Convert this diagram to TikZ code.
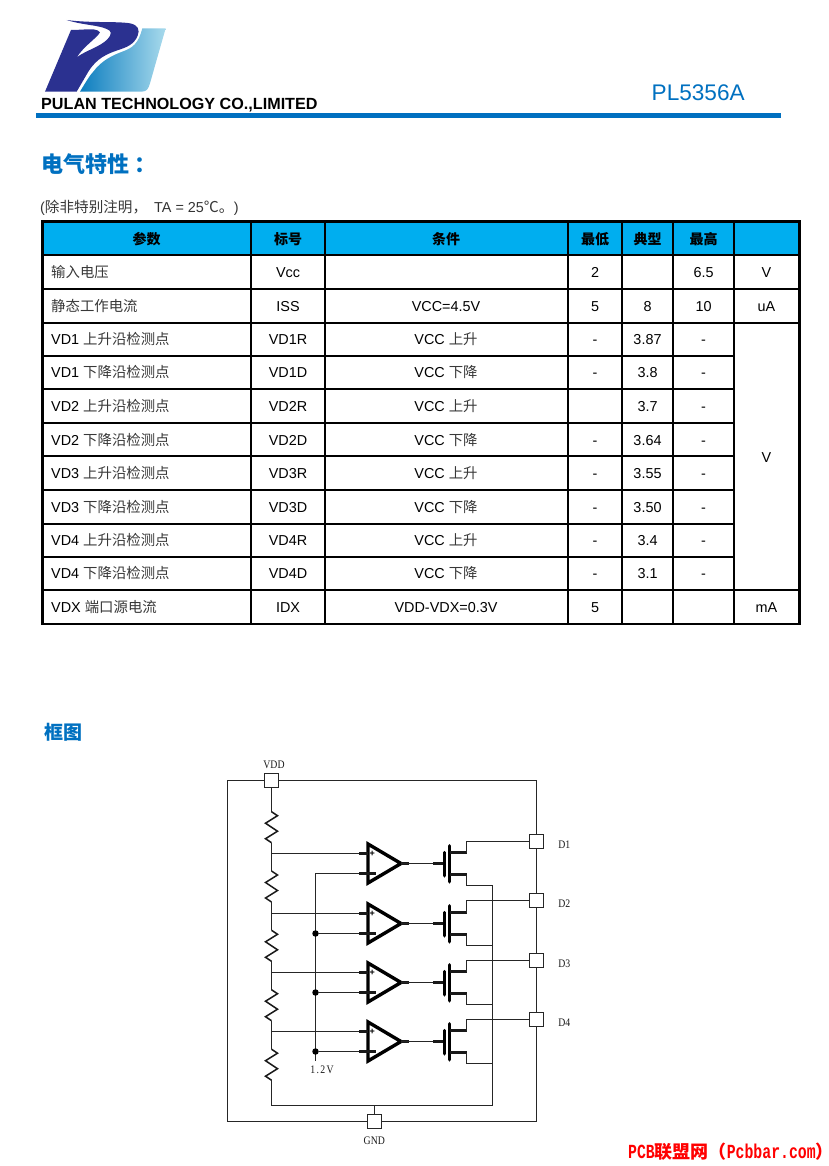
\documentclass[tikz,border=0pt]{standalone}
\usepackage{fontspec}
\usetikzlibrary{shapes.geometric}
\setmainfont{Liberation Sans}
\newfontfamily\cjk{Noto Sans CJK SC}
\newfontfamily\monofam[FakeStretch=0.74]{Liberation Mono}
\newfontfamily\seriffam[FakeStretch=0.85]{Liberation Serif}
\newcommand{\fsz}[1]{\fontsize{#1}{#1}\selectfont}
\newcommand{\zh}[1]{{\cjk\color{black!78}#1}}
\definecolor{pulanblue}{HTML}{0070C0}
\definecolor{headcyan}{HTML}{00AEEF}
\definecolor{logodark}{HTML}{2B3190}
\definecolor{logolow}{HTML}{0C7DBF}
\definecolor{logomid}{HTML}{2A96CC}
\definecolor{logohigh}{HTML}{A8DAEC}
\tikzset{
  cell/.style = {inner sep=0pt,text height=11pt,text depth=0pt,font=\fsz{14.4}},
  headcell/.style = {cell,font=\cjk\bfseries\fsz{14}},
  rule/.style = {line width=1.6pt,black},
  wire/.style = {line width=1.3pt,black!85},
  stub/.style = {line width=2.2pt,black!90},
  gatebar/.style = {line width=3.5pt,black,line cap=round},
  zigzag/.style = {line width=1.5pt,black!90,line join=miter},
  amp/.style = {isosceles triangle,isosceles triangle stretches,draw=black,line width=3.4pt,fill=white,
                minimum width=39pt,minimum height=33pt,inner sep=0pt,outer sep=0pt,anchor=lower side},
  pad/.style = {rectangle,draw=black!85,line width=1.3pt,fill=white,minimum size=14pt,inner sep=0pt,outer sep=0pt},
  dot/.style = {circle,fill=black,minimum size=6.5pt,inner sep=0pt,outer sep=0pt},
  pinlabel/.style = {font=\seriffam\fsz{11.5},inner sep=0pt,black!90}
}
\begin{document}
\begin{tikzpicture}[x=1pt,y=-1pt]
\useasboundingbox (0,0) rectangle (829,1166);
% logo
\begin{scope}[shift={(35,15)},x=0.3333pt,y=-0.3333pt]
\path[left color=logolow,middle color=logomid,right color=logohigh]
  (322,40) -- (392,40) -- (345,205) .. controls (340,222) and (335,230) .. (320,230) -- (135,230)
  .. controls (150,205) and (165,180) .. (175,170) .. controls (200,135) and (240,118) .. (262,110)
  .. controls (295,98) and (310,85) .. (322,40) -- cycle;
\fill[logodark] (95,15) .. controls (170,25) and (240,18) .. (285,25) .. controls (310,30) and (315,45) .. (308,62)
  .. controls (298,88) and (275,97) .. (250,105) .. controls (215,117) and (185,130) .. (160,170) -- (125,230) -- (30,230) -- (108,45)
  .. controls (130,45) and (160,42) .. (175,43) .. controls (185,44) and (192,47) .. (195,52)
  .. controls (185,70) and (150,90) .. (125,127) .. controls (150,108) and (195,95) .. (215,75)
  .. controls (235,55) and (228,47) .. (215,42) .. controls (190,30) and (140,30) .. (95,15) -- cycle;
\end{scope}
\node[anchor=base west,inner sep=0pt,font=\bfseries\fsz{16.15}] (company) at (41,110) {PULAN TECHNOLOGY CO.,LIMITED};
\node[anchor=base west,inner sep=0pt,font=\fsz{22.6},text=pulanblue] (partno) at (651.5,101) {PL5356A};
\draw[line width=5.2pt,pulanblue] (36,115.6) -- (781,115.6);
% titles
\node[anchor=west,inner sep=0pt,font=\cjk\bfseries\fsz{22},text=pulanblue] (elec) at (41,164) {电气特性\hspace{5pt}：};
\node[anchor=base west,inner sep=0pt,font=\fsz{14.4},text=black!80] (note) at (40,213) {(\zh{\fsz{14.6}除非特别注明，}\hspace{7pt}TA = 25\zh{\fsz{15}℃。})};
\node[anchor=west,inner sep=0pt,font=\cjk\bfseries\fsz{19},text=pulanblue] (block) at (44,732) {框图};
% table
\fill[headcyan] (42.5,221.7) rectangle (799.5,255);
\foreach \x in {251,325,567.7,622,673}
    \draw[rule] (\x,221.7) -- (\x,624);
\draw[rule] (733.7,221.7) -- (733.7,624);
\foreach \y in {255,288.7,323,590}
    \draw[rule] (42.5,\y) -- (799.5,\y);
\foreach \y in {355.7,389,423,456,490,523.7,556.7}
    \draw[rule] (42.5,\y) -- (733.7,\y);
\draw[line width=2.8pt] (42.5,221.7) rectangle (799.5,624);
\foreach \hd/\x [count=\j from 0] in {参数/146.5, 标号/288, 条件/446, 最低/595, 典型/647.5, 最高/703.5}
    \node[headcell] (head\j) at (\x,238.5) {\hd};
\foreach \yy/\para/\sym/\cnd/\lo/\typ/\hi/\unit [count=\j from 0] in {
    272/\zh{输入电压}/Vcc//2//6.5/V,
    306/\zh{静态工作电流}/ISS/VCC=4.5V/5/8/10/uA,
    339.4/VD1 \zh{上升沿检测点}/VD1R/VCC \zh{上升}/-/3.87/-/,
    372.4/VD1 \zh{下降沿检测点}/VD1D/VCC \zh{下降}/-/3.8/-/,
    406/VD2 \zh{上升沿检测点}/VD2R/VCC \zh{上升}//3.7/-/,
    439.5/VD2 \zh{下降沿检测点}/VD2D/VCC \zh{下降}/-/3.64/-/,
    473/VD3 \zh{上升沿检测点}/VD3R/VCC \zh{上升}/-/3.55/-/,
    506.8/VD3 \zh{下降沿检测点}/VD3D/VCC \zh{下降}/-/3.50/-/,
    540.2/VD4 \zh{上升沿检测点}/VD4R/VCC \zh{上升}/-/3.4/-/,
    573.4/VD4 \zh{下降沿检测点}/VD4D/VCC \zh{下降}/-/3.1/-/,
    607/VDX \zh{端口源电流}/IDX/VDD-VDX=0.3V/5///mA}
{
    \node[cell,anchor=west] (para\j) at (51,\yy) {\para};
    \node[cell] (sym\j) at (288,\yy) {\sym};
    \node[cell] (cnd\j) at (446,\yy) {\cnd};
    \node[cell] (lo\j) at (595,\yy) {\lo};
    \node[cell] (typ\j) at (647.5,\yy) {\typ};
    \node[cell] (hi\j) at (703.5,\yy) {\hi};
    \node[cell] (unit\j) at (766.5,\yy) {\unit};
}
\node[cell] (unitv) at (766.5,456.5) {V};
% pads
\node[pad] (vdd) at (271.5,780.5) {};
\node[pad] (gnd) at (374.5,1121.5) {};
\foreach \i/\yy in {1/841.5,2/900.5,3/960.5,4/1019.5}
    \node[pad] (d\i) at (536.5,\yy) {};
\node[pinlabel] (vddlab) at (274,765) {VDD};
\node[pinlabel] (gndlab) at (374.3,1141) {GND};
\foreach \i/\yy in {1/845,2/904,3/963.5,4/1022.5}
    \node[pinlabel] (dlab\i) at (564.3,\yy) {D\i};
% outer ring
\coordinate (ringl) at (227.5,1121.5);
\coordinate (botl) at (271.5,1105.5);
\coordinate (botc) at (374.5,1105.5);
\coordinate (botr) at (492.5,1105.5);
\draw[wire] (vdd) -| (ringl) -- (gnd);
\draw[wire] (vdd) -| (d1);
\draw[wire] (d1) -- (d2);
\draw[wire] (d2) -- (d3);
\draw[wire] (d3) -- (d4);
\draw[wire] (d4) |- (gnd);
\draw[wire] (gnd) -- (botc);
% divider
\foreach \i/\yy in {1/811.7,2/871,3/930.3,4/989.7,5/1049.2} {
    \coordinate (ra\i) at (271.5,\yy);
    \coordinate (rb\i) at (271.5,\yy+31);
    \draw[zigzag] (ra\i) -- ++(6,4) -- ++(-12,7.5) -- ++(12,8) -- ++(-12,7.5) -- (rb\i);
}
\draw[wire] (vdd) -- (ra1);
\foreach \i/\j in {1/2,2/3,3/4,4/5}
    \draw[wire] (rb\i) -- (ra\j);
\draw[wire] (rb5) -- (botl) -- (botr);
% comparators and fets
\foreach \i/\yy in {1/853.5,2/913.5,3/972.5,4/1031.5} {
    \coordinate (tap\i) at (271.5,\yy);
    \coordinate (plus\i) at (359,\yy);
    \coordinate (minus\i) at (359,\yy+20);
    \coordinate (gate\i) at (433,\yy+10);
    \coordinate (dr\i) at (466.5,\yy-1);
    \coordinate (so\i) at (466.5,\yy+21);
    \coordinate (rail\i) at (492.5,\yy+32);
    \draw[wire] (tap\i) -- (plus\i);
    \node[amp] (amp\i) at (368,\yy+10) {};
    \draw[stub] (plus\i) -- ++(9,0);
    \draw[stub] (minus\i) -- ++(16.5,0);
    \node[inner sep=0pt,font=\bfseries\fsz{9}] (sgn\i) at (372.3,\yy) {+};
    \draw[stub] (amp\i.apex) -- ++(8,0);
    \draw[wire] (amp\i.apex) -- (gate\i);
    \draw[stub] (gate\i) -- ++(11,0);
    \draw[gatebar] (444.3,\yy-1) -- (444.3,\yy+22.3);
    \draw[gatebar] (449.7,\yy-7.7) -- (449.7,\yy+28.3);
    \draw[stub] (449.7,\yy-1) -- (dr\i);
    \draw[stub] (449.7,\yy+21) -- (so\i);
    \draw[wire] (dr\i) |- (d\i);
    \draw[wire] (so\i) |- (rail\i);
}
\draw[wire] (rail1) -- (botr);
% reference line
\coordinate (refend) at (315.5,1061);
\draw[wire] (minus1) -| (refend);
\foreach \i/\yy in {2/933.5,3/992.5,4/1051.5} {
    \node[dot] (jn\i) at (315.5,\yy) {};
    \draw[wire] (jn\i) -- (minus\i);
}
\node[pinlabel] (reflab) at (322,1069.5) {\addfontfeature{LetterSpace=12}1.2V};
% footer
\node[anchor=west,inner sep=0pt,text=red,font=\monofam\bfseries\fsz{20}] (footer) at (628,1152)
    {PCB{\cjk\fsz{18}联盟网（}Pcbbar.com{\cjk\fsz{18}）}};
\end{tikzpicture}
\end{document}
